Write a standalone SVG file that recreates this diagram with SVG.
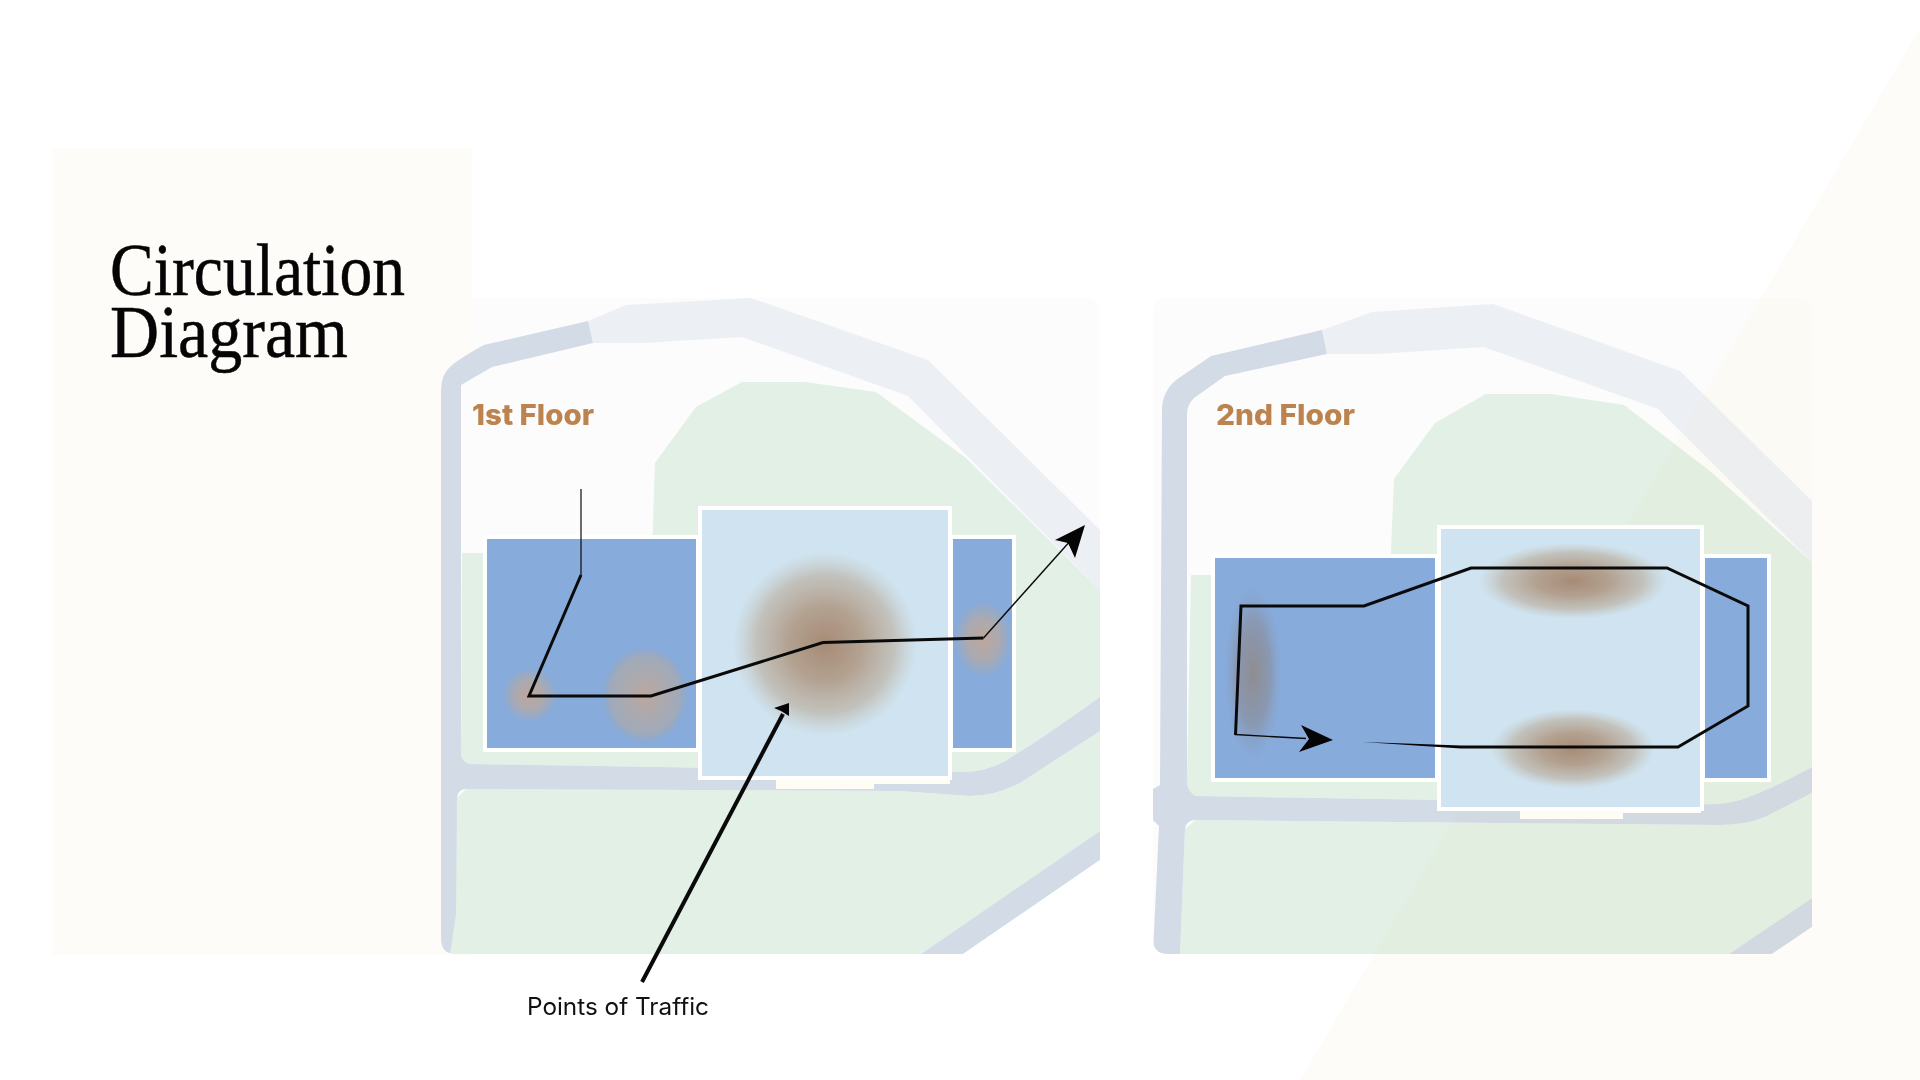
<svg xmlns="http://www.w3.org/2000/svg" width="1920" height="1080" viewBox="0 0 1920 1080">
<style>
.bg{fill:#fbfcfb}.rd{fill:#d2dbe6}.rl{fill:#ecf0f5}.gr{fill:#e2f0e6}
.wing{fill:#87abdb;stroke:#fff;stroke-width:4}.core{fill:#cfe3f0;stroke:#fff;stroke-width:4}.strip{fill:#fffcf6}
.floor{font-family:Inter,"Noto Sans",sans-serif;font-weight:800;font-size:29px;fill:#bd834f}
.title{font-family:"Liberation Serif",serif;font-size:74px;fill:#050505;stroke:#050505;stroke-width:.5}
.lbl{font-family:Inter,"Noto Sans",sans-serif;font-size:24px;fill:#111}
.p{fill:none;stroke:#0a0a0a;stroke-linejoin:miter}.ah{fill:#050505}
</style>
<defs>
<radialGradient id="hb"><stop offset="0" stop-color="#a68b75"/><stop offset=".4" stop-color="#b09a86" stop-opacity=".9"/><stop offset=".75" stop-color="#bcb3a6" stop-opacity=".7"/><stop offset="1" stop-color="#c5c4ba" stop-opacity="0"/></radialGradient>
<radialGradient id="hs"><stop offset="0" stop-color="#c9a68f" stop-opacity=".85"/><stop offset=".55" stop-color="#c2a896" stop-opacity=".6"/><stop offset="1" stop-color="#b5a89c" stop-opacity="0"/></radialGradient>
<radialGradient id="hf"><stop offset="0" stop-color="#c6a793" stop-opacity=".85"/><stop offset=".8" stop-color="#aeaaa8" stop-opacity=".65"/><stop offset="1" stop-color="#aaa49f" stop-opacity="0"/></radialGradient>
<radialGradient id="hg"><stop offset="0" stop-color="#8f8c8c" stop-opacity=".95"/><stop offset=".6" stop-color="#8b8e9c" stop-opacity=".65"/><stop offset="1" stop-color="#87a0c4" stop-opacity="0"/></radialGradient>
<clipPath id="c1"><path d="M456 298H1085Q1100 298 1100 313V860L963 954H456Q441 954 441 939V313Q441 298 456 298Z"/></clipPath>
<clipPath id="c2"><path d="M1168 298H1797Q1812 298 1812 313V927L1772 954H1168Q1153 954 1153 939V313Q1153 298 1168 298Z"/></clipPath>
</defs>
<rect width="1920" height="1080" fill="#fff"/>

<g id="backdrop" fill="#fdfcf8">
<rect x="52" y="148" width="420" height="807"/>
<polygon points="1920,28 1300,1080 1920,1080"/>
</g>

<g id="map-1st-floor" clip-path="url(#c1)">
<path class="bg" d="M471 298H1100V954H441V383L471 350Z"/>
<path class="gr" d="M742 382L805 382L876 392L966 458L1100 590V697Q1040 740 1010 758Q990 772 960 772L470 764Q461 762 461 753L462 553H652L655 463L696 407Z"/>
<path class="gr" d="M466 789L900 791L970 796Q995 796 1020 783L1100 731V831L921 954H450L450 914L457 798Z"/>
<path class="rl" d="M588 321L626 305L751 298L928 360L1100 530V590L908 396L742 337L644 343L593 343Z"/>
<path class="rd" d="M588 321L484 345Q462 357 452 365Q441 374 441 390V941Q441 950 450 954L456 914L457 798Q458 789 466 789L900 791L970 796Q995 796 1020 783L1100 731V697Q1040 740 1010 758Q990 772 960 772L470 764Q461 762 461 753V385L492 367L593 343Z"/>
<path class="rd" d="M921 954L1100 831V860L963 954Z"/>
</g>

<g id="map-2nd-floor" clip-path="url(#c2)">
<rect class="bg" x="1153" y="298" width="659" height="656"/>
<path class="gr" d="M1486 394H1551L1624 405L1711 472L1812 562V767Q1770 790 1740 800Q1725 805 1700 804L1196 796Q1187 792 1187 780L1191 575H1390L1394 479L1435 423Z"/>
<path class="gr" d="M1196 820L1720 825Q1745 825 1765 817L1812 793V898L1729 954H1180L1185 829Z"/>
<path class="rl" d="M1322 330L1372 312L1493 304L1680 371L1812 501V562L1658 409L1484 347L1377 354L1327 354Z"/>
<path class="rd" d="M1322 330L1211 356L1176 380Q1162 392 1162 410L1160 785L1153 789V820L1159 826L1153 954H1180L1185 829Q1186 820 1196 820L1720 825Q1745 825 1765 817L1812 793V767Q1770 790 1740 800Q1725 805 1700 804L1196 796Q1187 792 1187 780V414Q1187 405 1194 398L1225 376L1327 354Z"/>
<path class="rd" d="M1729 954L1812 898V927L1772 954Z"/>
</g>

<g id="backdrop-tint" style="mix-blend-mode:multiply" fill="#fffdf9" clip-path="url(#c2)">
<polygon points="1920,28 1300,1080 1920,1080"/>
</g>

<g id="building-1st">
<rect class="strip" x="776" y="776" width="98" height="13"/>
<rect class="strip" x="874" y="776" width="76" height="8"/>
<rect class="wing" x="485" y="537" width="213" height="213"/>
<rect class="wing" x="951" y="537" width="63" height="213"/>
<rect class="core" x="700" y="508" width="250" height="270"/>
<ellipse cx="825" cy="644" rx="92" ry="92" fill="url(#hb)"/>
<ellipse cx="530" cy="695" rx="28" ry="28" fill="url(#hs)"/>
<ellipse cx="645" cy="695" rx="43" ry="48" fill="url(#hf)"/>
<ellipse cx="983" cy="639" rx="30" ry="39" fill="url(#hs)"/>
</g>

<g id="building-2nd">
<rect class="strip" x="1520" y="806" width="103" height="13"/>
<rect class="strip" x="1623" y="806" width="78" height="7"/>
<rect class="wing" x="1213" y="556" width="224" height="224"/>
<rect class="wing" x="1703" y="556" width="66" height="224"/>
<rect class="core" x="1439" y="527" width="263" height="282"/>
<ellipse cx="1573" cy="581" rx="94" ry="38" fill="url(#hb)"/>
<ellipse cx="1573" cy="749" rx="82" ry="40" fill="url(#hb)"/>
<ellipse cx="1253" cy="673" rx="29" ry="88" fill="url(#hg)"/>
</g>

<g id="connectors">
<path class="p" stroke-width="1.2" d="M581 489V575"/>
<path class="p" stroke-width="3" d="M581 575L529 696H651L823 642.5L983.5 638"/>
<path class="p" stroke-width="1.4" d="M983.5 638L1072 539"/>
<polygon class="ah" points="1085,525 1075,558 1068,543 1055,540"/>
<path class="p" stroke-width="4" d="M642 982L783 714"/>
<polygon class="ah" points="789,703 789,716 781,711 774,708"/>
<path class="p" stroke-width="3" d="M1461 747H1678L1748 706V606L1667 568H1471L1364 606H1241L1235.5 735"/>
<path class="p" stroke-width="1.4" d="M1235 734.5L1306 738.5"/>
<polygon class="ah" points="1363,742 1461,745.5 1461,748.5"/>
<polygon class="ah" points="1333,740 1299,752 1309,739 1301,725"/>
</g>

<g id="labels">
<text class="title" x="110" y="295" textLength="295" lengthAdjust="spacingAndGlyphs">Circulation</text>
<text class="title" x="110" y="357" textLength="238" lengthAdjust="spacingAndGlyphs">Diagram</text>
<text class="floor" x="472" y="425" textLength="122" lengthAdjust="spacingAndGlyphs">1st Floor</text>
<text class="floor" x="1216" y="425" textLength="139" lengthAdjust="spacingAndGlyphs">2nd Floor</text>
<text class="lbl" x="527" y="1015" textLength="182" lengthAdjust="spacingAndGlyphs">Points of Traffic</text>
</g>
</svg>
